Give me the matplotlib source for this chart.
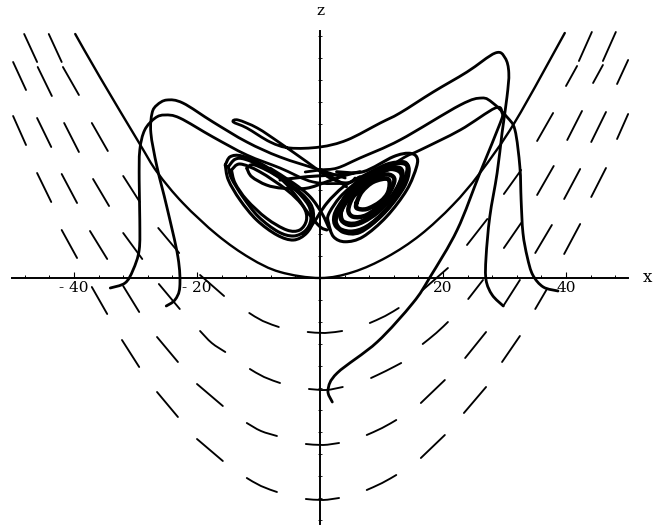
import matplotlib
matplotlib.use("Agg")
import matplotlib.pyplot as plt
from matplotlib.path import Path
from matplotlib.patches import PathPatch

# direction-field dashes (x values, z values)
field_x = [
 [-48.1,-46.0],[-44.1,-42.0],[-49.9,-47.8],[-45.9,-43.6],[-41.8,-39.2],
 [-49.9,-47.8],[-46.0,-43.7],[-41.6,-39.2],[-37.1,-34.5],
 [-46.0,-43.7],[-42.0,-39.5],[-36.9,-34.3],[-32.0,-29.3],
 [-42.0,-39.5],[-37.4,-34.6],[-32.0,-28.9],[-26.3,-22.9],
 [-37.1,-34.6],[-32.0,-29.4],[-26.2,-22.8],[-19.5,-15.6],
 [-32.2,-29.4],[-26.5,-23.1],[-19.5,-17.6,-15.4],[-11.5,-9.3,-6.7],[-2.0,0.8,3.6],
 [8.1,10.6,12.8],[16.7,18.9,20.8],[23.6,27.0],[29.6,32.5],
 [-26.5,-23.1],[-20.0,-15.8],[-11.4,-9.1,-6.5],[-1.8,1.0,3.7],[8.3,10.7,13.2],
 [16.4,20.3],[23.4,27.0],
 [-20.0,-15.8],[-11.9,-9.6,-7.0],[-2.3,0.5,3.1],[7.6,10.1,12.4],[16.4,20.3],
 [-11.9,-9.6,-7.0],[-2.3,0.5,3.1],[7.6,10.1,12.4],
 [44.2,42.1],[48.1,46.0],[41.8,40.0],[46.0,44.4],[50.1,48.3],
 [37.9,35.3],[42.6,40.2],[46.5,44.1],[50.1,48.3],
 [32.7,29.9],[38.0,35.3],[42.3,39.7],[46.5,44.1],
 [27.2,23.9],[32.7,29.9],[37.7,35.0],[42.3,39.7],
 [20.8,16.7],[26.5,24.1],[32.5,29.8],[36.9,35.0],
]
field_z = [
 [97.6,86.4],[97.6,86.4],[86.4,75.2],[84.4,72.8],[84.4,73.2],
 [64.8,53.2],[64.0,52.4],[62.0,50.4],[62.0,50.8],
 [42.0,30.4],[41.6,30.0],[39.6,28.8],[40.8,30.4],
 [19.2,8.0],[18.8,7.6],[18.0,7.6],[20.0,10.0],
 [-3.6,-14.4],[-3.2,-13.6],[-2.4,-12.4],[1.2,-7.2],
 [-24.8,-35.6],[-23.6,-33.6],[-21.2,-26.0,-29.6],[-14.0,-17.2,-19.6],[-21.6,-22.0,-21.2],
 [-18.0,-15.2,-12.0],[-26.4,-22.0,-17.6],[-32.0,-21.6],[-33.6,-23.2],
 [-45.6,-55.6],[-42.4,-51.2],[-36.4,-39.6,-42.0],[-44.4,-44.8,-43.6],[-40.0,-37.2,-34.0],
 [-50.0,-40.8],[-54.0,-43.6],
 [-64.4,-73.2],[-58.0,-61.2,-63.2],[-66.4,-66.8,-66.0],[-62.8,-60.0,-56.8],[-72.0,-62.8],
 [-80.0,-83.2,-85.6],[-88.4,-88.8,-88.0],[-84.8,-82.0,-78.8],
 [98.4,86.8],[98.4,86.8],[84.8,76.8],[85.2,78.0],[87.2,77.6],
 [66.0,54.8],[66.8,55.2],[66.4,54.4],[65.6,55.6],
 [43.2,33.6],[44.8,33.2],[43.6,31.6],[44.0,32.4],
 [23.6,13.2],[22.0,12.0],[21.2,10.0],[21.6,9.6],
 [4.0,-4.8],[-0.8,-8.4],[-0.8,-11.2],[-4.4,-12.4],
]

# separatrix through the origin
sep_x = [-39.8,-35.8,-29.4,-26.5,-22.3,-16.7,-11.4,-6.5,0,5.4,10.9,16.3,21.6,26.0,31.7,39.8]
sep_z = [97.6,80.4,54.0,42.4,30.0,17.2,8.0,2.4,0,2.4,8.4,17.2,29.2,42.0,62.4,98.0]

# trajectories
traj_a_x = [-34.1,-31.7,-30.4,-29.4,-29.3,-29.4,-29.3,-28.5,-26.8,-25.2,-22.8,-17.4,-11.9,-6.5,-1.1,4.4,5.7]
traj_a_z = [-4.0,-2.0,3.2,11.2,23.2,39.2,51.2,59.2,64.0,65.2,64.0,56.4,49.2,44.0,38.4,38.0,40.0]
traj_f_x = [-25.0,-23.6,-22.8,-23.1,-24.9,-26.5,-27.5,-27.3,-26.5,-24.9,-22.3,-17.4,-11.9,-6.5,0,4.1]
traj_f_z = [-11.2,-8.8,-3.6,8.4,28.4,44.4,58.0,66.0,69.2,71.2,70.0,62.4,54.4,48.4,43.2,40.0]
traj_b_x = [38.7,36.3,34.6,33.7,33.0,32.7,32.5,31.7,30.4,28.1,26.3,22.8,13.0,6.5,2.8,0,-2.4]
traj_b_z = [-5.2,-3.6,1.2,8.4,18.0,31.2,44.4,59.2,64.4,70.0,72.0,69.2,55.2,48.0,44.0,43.2,42.4]
traj_c_x = [29.8,28.0,27.0,27.0,27.6,28.8,29.6,30.4,30.7,30.1,28.5,23.9,18.4,13.0,9.8,4.4,0,-4.9,-8.1,-11.9,-14.1,-13.3,-10.2,-6.5,-2.1,1.6,4.4,6.2]
traj_c_z = [-11.2,-6.8,-0.8,8.4,24.4,42.0,58.0,72.4,82.0,88.0,90.0,82.4,74.4,66.0,62.0,55.2,52.4,52.0,54.4,60.0,62.4,63.2,60.0,54.0,46.4,40.0,38.0,40.0]
traj_e_x = [2.0,1.3,2.8,9.3,15.1,17.9,22.3,26.0,29.3,29.6,28.5,22.8,16.3,13.8,9.8,6.2]
traj_e_z = [-49.6,-44.8,-38.0,-25.6,-10.0,0.4,19.2,42.0,62.0,66.0,68.0,59.2,51.2,48.4,42.4,40.0]

# attractor loops
left1_x = [-15.4,-14.6,-12.7,-9.2,-4.9,-1.6,-1.1,-2.2,-4.3,-7.0,-10.3,-13.0,-14.9,-15.4]
left1_z = [45.2,48.5,48.8,45.2,37.9,29.9,23.2,17.9,15.2,17.2,23.2,31.2,39.2,45.2]
left2_x = [-14.9,-13.8,-12.2,-8.9,-4.6,-1.9,-1.5,-2.4,-4.3,-6.8,-10.0,-12.5,-14.4,-14.9]
left2_z = [44.5,47.5,47.5,43.9,36.5,29.2,23.2,18.9,16.8,18.5,24.5,32.3,39.9,44.5]
left3_x = [-14.4,-13.0,-9.8,-5.4,-2.7,-2.2,-3.3,-5.4,-8.7,-11.9,-13.8,-14.4]
left3_z = [43.2,45.6,42.5,35.2,28.5,23.2,19.2,19.2,23.9,31.2,37.9,43.2]
arc1_x = [-11.9,-11.1,-8.7,-6.0,-2.2,1.1,4.3,6.5]
arc1_z = [43.9,40.5,37.2,35.9,35.9,38.5,41.2,42.5]
arc2_x = [-11.9,-10.6,-6.5,-3.8,-1.9,0,1.1]
arc2_z = [43.9,45.2,39.9,32.5,25.9,20.5,19.2]
cross1_x = [-2.7,-1.1,1.1,3.8,6.5]
cross1_z = [17.2,21.9,29.9,36.5,40.5]
cross2_x = [1.6,0.3,-1.6,-4.3,-8.1]
cross2_z = [19.2,25.9,32.5,37.9,43.9]
cross3_x = [-6.5,-2.2,2.2,5.4]
cross3_z = [39.2,40.5,41.2,41.9]
cross4_x = [0,2.7,4.3]
cross4_z = [43.2,39.2,36.5]
right1_x = [2.7,7.0,11.9,14.4,15.7,15.7,14.1,10.8,7.0,4.1,2.2,1.4,1.4,3.3,6.0]
right1_z = [42.5,42.5,48.5,49.9,48.5,44.5,35.2,24.5,16.5,14.5,16.5,21.9,25.5,32.5,38.5]
right2_x = [6.0,10.8,13.6,14.4,13.6,10.8,7.6,4.9,2.7,2.4,3.8,6.0]
right2_z = [39.2,45.2,45.9,43.2,36.5,27.2,20.5,18.5,20.5,25.2,31.2,36.5]
right3_x = [2.7,4.3,7.6,11.7,13.8,14.2,12.7,10.0,6.5,3.8,2.6,2.7]
right3_z = [25.2,33.2,39.9,45.2,46.1,42.5,33.9,25.2,18.5,18.5,21.9,25.2]
right4_x = [3.3,4.6,7.0,10.8,13.0,13.3,11.7,8.9,6.0,3.8,3.3]
right4_z = [25.9,33.2,38.5,43.2,43.9,39.9,32.5,25.9,21.9,22.5,25.9]
right5_x = [6.5,10.3,12.5,13.3,12.2,9.8,7.0,4.9,3.5,3.5,4.9,6.5]
right5_z = [38.5,43.2,43.2,40.5,34.5,27.2,22.5,21.2,23.2,27.2,32.5,36.5]
right6_x = [7.0,10.3,11.9,11.9,10.3,7.6,5.4,4.6,5.4,7.0]
right6_z = [37.2,41.2,40.5,37.2,30.5,25.2,24.5,27.2,32.5,35.9]
right7_x = [5.9,6.8,8.7,11.1,11.1,9.8,7.6,6.0,5.9]
right7_z = [29.9,34.5,38.5,39.5,34.5,30.5,27.6,27.9,29.9]

major_ticks = [-40,-20,20,40]
major_labels = ['- 40','- 20','20','40']
minor_ticks = [-48,-44,-36,-32,-28,-24,-16,-12,-8,-4,4,8,12,16,24,28,32,36,44,48]
z_ticks = [-96.8,-88,-79.2,-70.4,-61.6,-52.8,-44,-35.2,-26.4,-17.6,-8.8,8.8,17.6,26.4,35.2,44,52.8,61.6,70.4,79.2,88,96.8]

plt.rcParams['font.family'] = ['DejaVu Serif']
fig = plt.figure(figsize=(6.67,5.27), dpi=100)
ax = fig.add_axes([0,0,1,1])
ax.set_xlim(-52.03,56.42)
ax.set_ylim(-99.6,111.2)

def smooth(xs, zs, lw):
    """Cubic curve running through every read point (Catmull-Rom handles)."""
    pts = list(zip(xs, zs))
    n = len(pts)
    verts = [pts[0]]
    codes = [Path.MOVETO]
    for i in range(n-1):
        p0 = pts[max(i-1,0)]; p1 = pts[i]; p2 = pts[i+1]; p3 = pts[min(i+2,n-1)]
        c1 = (p1[0]+(p2[0]-p0[0])/6, p1[1]+(p2[1]-p0[1])/6)
        c2 = (p2[0]-(p3[0]-p1[0])/6, p2[1]-(p3[1]-p1[1])/6)
        verts += [c1, c2, p2]
        codes += [Path.CURVE4]*3
    ax.add_patch(PathPatch(Path(verts, codes), fill=False, ec='black', lw=lw, capstyle='round', joinstyle='round'))

for fx, fz in zip(field_x, field_z):
    smooth(fx, fz, 1.35)
smooth(sep_x, sep_z, 1.7)
for tx, tz in [(traj_a_x,traj_a_z),(traj_f_x,traj_f_z),(traj_b_x,traj_b_z),(traj_c_x,traj_c_z),(traj_e_x,traj_e_z)]:
    smooth(tx, tz, 2.0)
for lx, lz in [(left1_x,left1_z),(left2_x,left2_z),(left3_x,left3_z),(arc1_x,arc1_z),(arc2_x,arc2_z),
               (cross1_x,cross1_z),(cross2_x,cross2_z),(cross3_x,cross3_z),(cross4_x,cross4_z),
               (right1_x,right1_z)]:
    smooth(lx, lz, 2.2)
for lx, lz in [(right2_x,right2_z),(right3_x,right3_z),(right4_x,right4_z),(right5_x,right5_z),(right6_x,right6_z),(right7_x,right7_z)]:
    smooth(lx, lz, 3.2)

for s in ['top','right']:
    ax.spines[s].set_visible(False)
ax.patch.set_visible(False)
ax.spines['bottom'].set_position(('data',0)); ax.spines['left'].set_position(('data',0))
ax.spines['bottom'].set_bounds(-50.1,50.1); ax.spines['left'].set_bounds(-98.4,98.8)
ax.spines['bottom'].set_linewidth(1.4); ax.spines['left'].set_linewidth(1.4)
ax.set_yticks(z_ticks)
ax.set_yticklabels([])
ax.tick_params(axis='y', direction='inout', length=2.2, width=0.6)
ax.set_xticks(major_ticks)
ax.set_xticklabels(major_labels)
ax.set_xticks(minor_ticks, minor=True)
ax.tick_params(axis='x', which='major', direction='in', length=4, width=0.8, labelsize=11, pad=2)
ax.tick_params(axis='x', which='minor', direction='in', length=2, width=0.7)
ax.text(0,106.8,'z',ha='center',va='center',fontsize=11)
ax.text(53.3,0.4,'x',ha='center',va='center',fontsize=12)
fig.savefig('out.png', dpi=100)
